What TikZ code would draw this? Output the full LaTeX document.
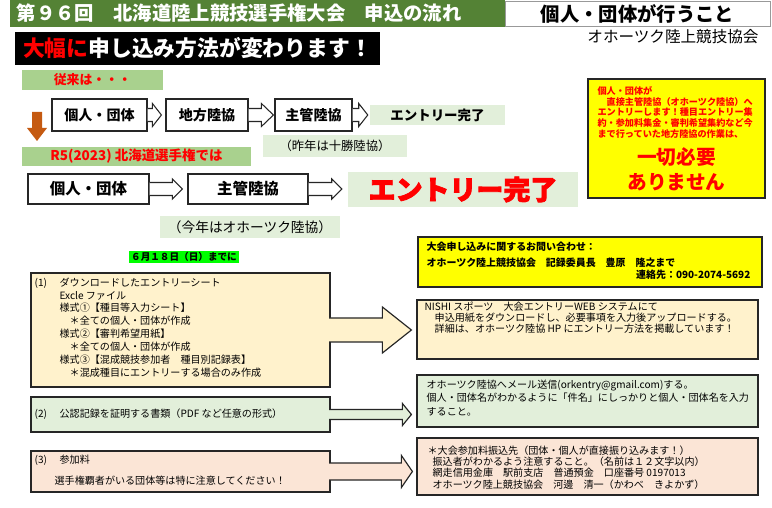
\documentclass[tikz,border=0pt]{standalone}
\usepackage{fontspec}
\setmainfont{Noto Sans CJK JP}
\newfontfamily\outlinejp[FakeBold=3]{Noto Sans CJK JP}
\usepackage{pdfrender}
\usetikzlibrary{calc}
\definecolor{titlegreen}{RGB}{84,130,53}
\definecolor{midgreen}{RGB}{169,209,142}
\definecolor{palegreen}{RGB}{226,239,218}
\definecolor{brightgreen}{RGB}{0,255,0}
\definecolor{notey}{RGB}{255,255,0}
\definecolor{cream}{RGB}{255,242,204}
\definecolor{peach}{RGB}{251,229,214}
\definecolor{arrorange}{RGB}{197,90,17}

% block arrow: style, tail, tip, half shaft, half head, head length
\newcommand{\blockarrow}[6]{%
  \filldraw[#1] ($(#2)+(0,-#4)$) -| ($(#3)+(-#6,-#5)$) -- (#3)
    -- ($(#3)+(-#6,#5)$) |- ($(#2)+(0,#4)$);}

\begin{document}
\begin{tikzpicture}[
    x=0.03cm, y=-0.03cm,
    box/.style={rectangle, draw=black!85, line width=1pt, inner sep=0pt,
                align=center},
    flowbox/.style={box, minimum height=0.96cm,
                    font=\fontsize{12}{14}\selectfont\bfseries},
    bigflow/.style={box, minimum height=0.9cm,
                    font=\fontsize{13.2}{15}\selectfont\bfseries},
    tag/.style={rectangle, fill=midgreen, inner sep=0pt, text=red,
                font=\fontsize{11}{13}\selectfont\bfseries},
    memo/.style={rectangle, fill=palegreen, inner sep=0pt},
    txt/.style={inner sep=0pt, align=left, font=\fontsize{8.6}{11}\selectfont},
    hollow/.style={draw=black!85, fill=white, line width=0.9pt},
    feed/.style={draw=black!85, line width=1pt},
]
\useasboundingbox (0,0) rectangle (772,508);
\fill[white] (0,0) rectangle (772,508);

% header
\node[fill=titlegreen, text=white, minimum height=0.72cm, inner xsep=0.21cm,
      text width=14.43cm, align=left,
      font=\fontsize{16.5}{18}\selectfont\bfseries] (title) at (257.5,13.5)
     {第９６回　北海道陸上競技選手権大会　申込の流れ};
\node[box, draw=black!40, line width=0.8pt, minimum width=7.95cm,
      minimum height=0.75cm, font=\fontsize{16.5}{18}\selectfont\bfseries]
     (who) at (637.5,13.5) {個人・団体が行うこと};
\node[inner sep=0pt, font=\fontsize{13.3}{15}\selectfont] (assoc) at (673,37)
     {オホーツク陸上競技協会};
\node[fill=black, text=white, minimum width=10.95cm, minimum height=0.99cm,
      inner sep=0pt, font=\fontsize{18.6}{20}\selectfont\bfseries]
     (banner) at (197.5,48.5) {\textcolor{red}{大幅に}申し込み方法が変わります！};

% old route
\node[tag, minimum width=4.23cm, minimum height=0.6cm] (old) at (92.5,80)
     {従来は・・・};
\node[flowbox, minimum width=2.85cm] (o1) at (99.5,115) {個人・団体};
\node[flowbox, minimum width=2.46cm] (o2) at (207,115) {地方陸協};
\node[flowbox, minimum width=2.31cm] (o3) at (313.5,115) {主管陸協};
\node[memo, minimum width=4.05cm, minimum height=0.6cm,
      font=\fontsize{11.5}{13}\selectfont\bfseries] (o4) at (437.5,115)
     {エントリー完了};
\node[memo, minimum width=4.32cm, minimum height=0.66cm,
      font=\fontsize{10.5}{12}\selectfont] (lastyr) at (335,146)
     {（昨年は十勝陸協）};

\fill[arrorange] (32,112) -- (42,112) -- (42,128) -- (47,128) -- (37,141)
  -- (27,128) -- (32,128) -- cycle;

% new route
\node[tag, minimum width=6.87cm, minimum height=0.57cm,
      font=\fontsize{11.5}{13}\selectfont\bfseries] (r5) at (136.5,156.5)
     {R5(2023) 北海道選手権では};
\node[bigflow, minimum width=3.63cm] (n1) at (88.5,189) {個人・団体};
\node[bigflow, minimum width=3.6cm] (n2) at (248,189) {主管陸協};
\node[memo, minimum width=6.9cm, minimum height=1.05cm, text=red,
      font=\fontsize{23}{26}\selectfont\outlinejp\bfseries] (n3) at (463,189.5)
     {\pdfrender{StrokeColor=black}エントリー完了};
\node[memo, minimum width=5.4cm, minimum height=0.66cm,
      font=\fontsize{11.7}{13}\selectfont] (thisyr) at (250,227)
     {（今年はオホーツク陸協）};
\node[fill=brightgreen, inner sep=0pt, minimum width=3.3cm,
      minimum height=0.36cm, font=\fontsize{8.2}{9}\selectfont\bfseries]
     (due) at (184,257) {６月１８日（日）までに};

\coordinate (t1) at ($(o2.west)+(-4,0)$);
\coordinate (t2) at ($(o3.west)+(-1,0)$);
\coordinate (t3) at ($(o4.west)+(-2,0)$);
\coordinate (t4) at ($(n2.west)+(-5,0)$);
\coordinate (t5) at ($(n3.west |- n2.east)+(-6,0)$);
\blockarrow{hollow}{o1.east}{t1}{6.5}{11.5}{9}
\blockarrow{hollow}{o2.east}{t2}{6.5}{11.5}{12}
\blockarrow{hollow}{o3.east}{t3}{6.5}{11.5}{9}
\blockarrow{hollow}{n1.east}{t4}{6.5}{10}{10}
\blockarrow{hollow}{n2.east}{t5}{6.5}{10}{10}

% note
\node[box, fill=notey, line width=1.2pt, minimum width=5.31cm,
      minimum height=3.57cm] (note) at (676.5,138.5) {};
\node[txt, anchor=north west, text=red,
      font=\fontsize{7.8}{9.1}\selectfont\bfseries] (notetxt)
     at ($(note.north west)+(10,8)$)
     {個人・団体が\\　直接主管陸協（オホーツク陸協）へ\\
      エントリーします！種目エントリー集\\約・参加料集金・審判希望集約など今\\
      まで行っていた地方陸協の作業は、};
\node[inner sep=0pt, text=red, align=center,
      font=\fontsize{16.8}{21.3}\selectfont\bfseries] (none)
     at ($(note.center)+(0,31)$) {一切必要\\ありません};

% contact
\node[box, fill=notey, minimum width=10.32cm, minimum height=1.5cm]
     (contact) at (590,262) {};
\node[txt, anchor=north west, font=\fontsize{8.5}{13.6}\selectfont\bfseries]
     (ctxt) at ($(contact.north west)+(9,5)$)
     {大会申し込みに関するお問い合わせ：\\
      オホーツク陸上競技協会　記録委員長　豊原　隆之まで};
\node[txt, anchor=east, font=\fontsize{8.5}{10}\selectfont\bfseries] (tel)
     at ($(contact.east)+(-12,13)$) {連絡先：090-2074-5692};

% what to send
\node[box, fill=cream, minimum width=8.97cm, minimum height=3.42cm] (b1)
     at (180.5,330) {};
\node[txt, anchor=north west] (b1txt) at ($(b1.north west)+(4,5)$)
     {\makebox[0.75cm][l]{(1)}ダウンロードしたエントリーシート\\
      \hspace*{0.75cm}Excle ファイル\\
      \hspace*{0.75cm}様式①【種目等入力シート】\\
      \hspace*{0.75cm}　＊全ての個人・団体が作成\\
      \hspace*{0.75cm}様式②【審判希望用紙】\\
      \hspace*{0.75cm}　＊全ての個人・団体が作成\\
      \hspace*{0.75cm}様式③【混成競技参加者　種目別記録表】\\
      \hspace*{0.75cm}　＊混成種目にエントリーする場合のみ作成};

\node[box, fill=palegreen, minimum width=8.97cm, minimum height=1.05cm] (b2)
     at (180.5,414.5) {};
\node[txt, anchor=west] (b2txt) at ($(b2.west)+(4,0)$)
     {\makebox[0.75cm][l]{(2)}公認記録を証明する書類（PDF など任意の形式）};

\node[box, fill=peach, minimum width=8.97cm, minimum height=1.23cm] (b3)
     at (180.5,471.5) {};
\node[txt, anchor=west, font=\fontsize{8.6}{18}\selectfont] (b3txt)
     at ($(b3.west)+(4,-1)$)
     {\makebox[0.75cm][l]{(3)}参加料\\
      \hspace*{0.6cm}選手権覇者がいる団体等は特に注意してください！};

% where it goes
\node[box, fill=cream, minimum width=10.23cm, minimum height=1.77cm] (nishi)
     at (587.5,329.5) {};
\node[txt, anchor=north west, font=\fontsize{8.6}{9.4}\selectfont] (nishitxt)
     at ($(nishi.north west)+(8,2)$)
     {NISHI スポーツ　大会エントリーWEB システムにて\\
      　申込用紙をダウンロードし、必要事項を入力後アップロードする。\\
      　詳細は、オホーツク陸協 HP にエントリー方法を掲載しています！};

\node[box, fill=palegreen, minimum width=10.23cm, minimum height=1.56cm]
     (mail) at (587.5,401) {};
\node[txt, anchor=north west, font=\fontsize{8.6}{11.5}\selectfont] (mailtxt)
     at ($(mail.north west)+(10,5)$)
     {オホーツク陸協へメール送信(orkentry@gmail.com)する。\\
      個人・団体名がわかるように「件名」にしっかりと個人・団体名を入力\\
      すること。};

\node[box, fill=peach, minimum width=10.23cm, minimum height=1.71cm] (bank)
     at (587.5,466.5) {};
\node[txt, anchor=north west, font=\fontsize{8.6}{9.6}\selectfont] (banktxt)
     at ($(bank.north west)+(11,8)$)
     {＊大会参加料振込先（団体・個人が直接振り込みます！）\\
      \hspace*{0.15cm}振込者がわかるよう注意すること。（名前は１２文字以内）\\
      \hspace*{0.15cm}網走信用金庫　駅前支店　普通預金　口座番号 0197013\\
      \hspace*{0.15cm}オホーツク陸上競技協会　河邊　清一（かわべ　きよかず）};

\coordinate (s1) at ($(b1.east)+(-1.5,0)$);
\coordinate (e1) at ($(nishi.west |- b1.east)+(-5,0)$);
\coordinate (s2) at ($(b2.east)+(-1.5,0)$);
\coordinate (e2) at ($(mail.west |- b2.east)+(-5,0)$);
\coordinate (s3) at ($(b3.east)+(-1.5,0)$);
\coordinate (e3) at ($(bank.west |- b3.east)+(-4,0)$);
\blockarrow{feed, fill=cream}{s1}{e1}{12}{23}{29}
\blockarrow{feed, fill=palegreen}{s2}{e2}{5}{11}{9}
\blockarrow{feed, fill=peach}{s3}{e3}{8.5}{16}{11}

\end{tikzpicture}
\end{document}
